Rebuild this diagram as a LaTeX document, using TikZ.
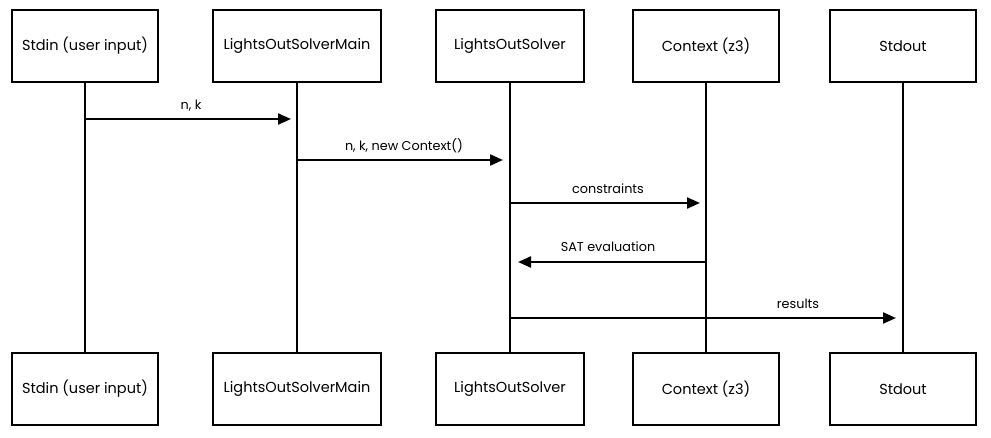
\documentclass[tikz,border=0pt]{standalone}
\usepackage{fontspec}
\setmainfont{Poppins}
\usetikzlibrary{arrows.meta}
\begin{document}
\begin{tikzpicture}[x=1pt,y=-1pt,
  actor/.style={draw=black,line width=2.6pt,minimum width=146pt,minimum height=72pt,inner sep=0pt,font=\fontsize{14.5}{16}\selectfont},
  life/.style={line width=2.4pt},
  msg/.style={line width=2.2pt,-{Triangle[length=13pt,width=11pt]}},
  lbl/.style={font=\fontsize{12.8}{14}\selectfont}]
\useasboundingbox (0,0) rectangle (991,438);
\foreach \n/\x/\w/\t in {a/85/146/Stdin (user input),b/297/168/LightsOutSolverMain,c/510/148/LightsOutSolver,d/706/146/Context (z3),e/903/146/Stdout}{
  \node[actor,minimum width=\w pt] (\n t) at (\x,46) {\t};
  \node[actor,minimum width=\w pt] (\n b) at (\x,389) {\t};
  \draw[life] (\n t.south) -- (\n b.north);
}
\coordinate (m1s) at (85,119);  \coordinate (m1e) at (291,119);
\coordinate (m2s) at (297,160); \coordinate (m2e) at (503,160);
\coordinate (m3s) at (511,203); \coordinate (m3e) at (700,203);
\coordinate (m4s) at (706,262); \coordinate (m4e) at (518,262);
\coordinate (m5s) at (511,318); \coordinate (m5e) at (896,318);
\draw[msg] (m1s) -- (m1e);
\draw[msg] (m2s) -- (m2e);
\draw[msg] (m3s) -- (m3e);
\draw[msg] (m4s) -- (m4e);
\draw[msg] (m5s) -- (m5e);
\node[lbl] (l1) at (191,106) {n, k};
\node[lbl] (l2) at (404,146) {n, k, new Context()};
\node[lbl] (l3) at (608,189) {constraints};
\node[lbl] (l4) at (608,247) {SAT evaluation};
\node[lbl] (l5) at (798,304) {results};
\end{tikzpicture}
\end{document}
